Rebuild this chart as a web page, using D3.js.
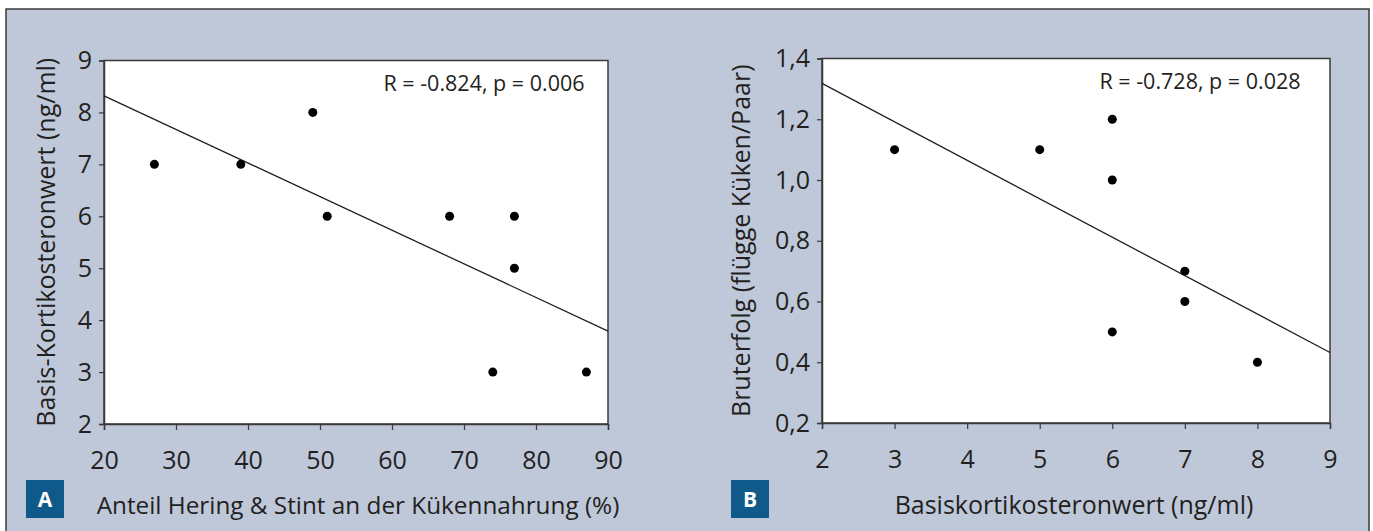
<!DOCTYPE html>
<html><head><meta charset="utf-8">
<script src="https://cdn.jsdelivr.net/npm/d3@7"></script>
<style>
html,body{margin:0;padding:0;background:#fff;}
text{font-family:"Open Sans","Noto Sans",sans-serif;fill:#231f20;}
</style></head>
<body><svg id="c" width="1373" height="531"></svg>
<script>
// Panel A data
const xA = [27, 39, 49, 51, 68, 77, 77, 74, 87];
const yA = [7, 7, 8, 6, 6, 6, 5, 3, 3];
const trendAx = [20, 90];
const trendAy = [8.32, 3.79];
const xTicksA = [20, 30, 40, 50, 60, 70, 80, 90];
const yTicksA = [2, 3, 4, 5, 6, 7, 8, 9];
const xTickLabelsA = ["20","30","40","50","60","70","80","90"];
const yTickLabelsA = ["2","3","4","5","6","7","8","9"];
// Panel B data
const xB = [3, 5, 6, 6, 7, 7, 6, 8];
const yB = [1.1, 1.1, 1.2, 1.0, 0.7, 0.6, 0.5, 0.4];
const trendBx = [2, 9];
const trendBy = [1.318, 0.432];
const xTicksB = [2, 3, 4, 5, 6, 7, 8, 9];
const yTicksB = [0.2, 0.4, 0.6, 0.8, 1.0, 1.2, 1.4];
const xTickLabelsB = ["2","3","4","5","6","7","8","9"];
const yTickLabelsB = ["0,2","0,4","0,6","0,8","1,0","1,2","1,4"];

const svg = d3.select("#c");
svg.append("rect").attr("x",6).attr("y",9).attr("width",1363).attr("height",530)
  .attr("fill","#bec8d8").attr("stroke","#3a3a3a").attr("stroke-width",1.5);

function panel(cfg){
  const x = d3.scaleLinear().domain(cfg.xDom).range([cfg.left, cfg.right]);
  const y = d3.scaleLinear().domain(cfg.yDom).range([cfg.bottom, cfg.top]);
  const g = svg.append("g");
  g.append("rect").attr("x",cfg.left).attr("y",cfg.top)
    .attr("width",cfg.right-cfg.left).attr("height",cfg.bottom-cfg.top)
    .attr("fill","#fff").attr("stroke","#3a3a3a").attr("stroke-width",1.5);
  const ax = g.append("g").attr("transform",`translate(0,${cfg.bottom})`)
    .call(d3.axisBottom(x).tickValues(cfg.xTicks).tickSize(6).tickPadding(21)
      .tickFormat((d,i)=>cfg.xLabels[i]));
  const ay = g.append("g").attr("transform",`translate(${cfg.left},0)`)
    .call(d3.axisLeft(y).tickValues(cfg.yTicks).tickSize(5).tickPadding(7)
      .tickFormat((d,i)=>cfg.yLabels[i]));
  [ax,ay].forEach(a=>{
    a.select(".domain").attr("stroke","#3a3a3a").attr("stroke-width",1.5);
    a.selectAll(".tick line").attr("stroke","#3a3a3a").attr("stroke-width",1.2);
    a.selectAll(".tick text").attr("font-size",25).attr("fill","#231f20")
      .style("font-family",'"Open Sans","Noto Sans",sans-serif');
  });
  g.append("path")
    .datum(cfg.tx.map((v,i)=>[v,cfg.ty[i]]))
    .attr("d", d3.line().x(d=>x(d[0])).y(d=>y(d[1])))
    .attr("stroke","#231f20").attr("stroke-width",1.3).attr("fill","none");
  g.selectAll("circle.pt").data(cfg.xs.map((v,i)=>[v,cfg.ys[i]])).join("circle")
    .attr("class","pt").attr("cx",d=>x(d[0])).attr("cy",d=>y(d[1])).attr("r",4.5)
    .attr("fill","#000");
  g.append("text").attr("x",cfg.rX).attr("y",cfg.top+30).attr("font-size",21.5)
    .attr("text-anchor","middle").text(cfg.rText);
  g.append("text").attr("transform",`translate(${cfg.yTitleX},${(cfg.top+cfg.bottom)/2}) rotate(-90)`)
    .attr("text-anchor","middle").attr("font-size",25).text(cfg.yTitle);
  g.append("text").attr("x",cfg.xTitleX).attr("y",514).attr("text-anchor","middle")
    .attr("font-size",cfg.xTitleSize).text(cfg.xTitle);
  g.append("rect").attr("x",cfg.badgeX).attr("y",480).attr("width",38).attr("height",38)
    .attr("fill","#0f5a8a");
  g.append("text").attr("x",cfg.badgeX+19).attr("y",507).attr("text-anchor","middle")
    .attr("font-size",21).attr("font-weight","bold").style("fill","#fff").text(cfg.badge);
}

panel({xDom:[20,90], yDom:[2,9], left:104, right:608, top:60.5, bottom:424,
  xTicks:xTicksA, yTicks:yTicksA, xLabels:xTickLabelsA, yLabels:yTickLabelsA,
  xs:xA, ys:yA, tx:trendAx, ty:trendAy, rText:"R = -0.824, p = 0.006", rX:484,
  yTitle:"Basis-Kortikosteronwert (ng/ml)", yTitleX:55, xTitleSize:24.3,
  xTitle:"Anteil Hering & Stint an der Kükennahrung (%)", xTitleX:358, badge:"A", badgeX:26});
panel({xDom:[2,9], yDom:[0.2,1.4], left:822, right:1330, top:58.5, bottom:423,
  xTicks:xTicksB, yTicks:yTicksB, xLabels:xTickLabelsB, yLabels:yTickLabelsB,
  xs:xB, ys:yB, tx:trendBx, ty:trendBy, rText:"R = -0.728, p = 0.028", rX:1200,
  yTitle:"Bruterfolg (flügge Küken/Paar)", yTitleX:750, xTitleSize:25,
  xTitle:"Basiskortikosteronwert (ng/ml)", xTitleX:1074, badge:"B", badgeX:731});
</script></body></html>
